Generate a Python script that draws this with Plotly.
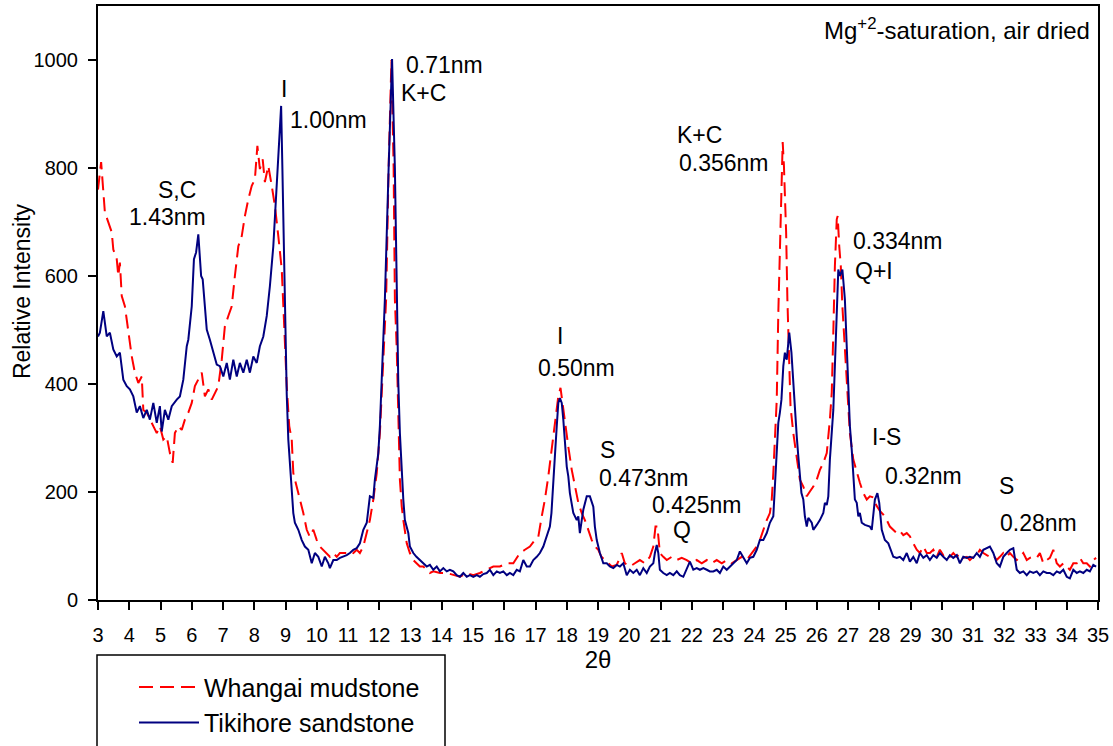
import plotly.graph_objects as go

# ---------------- data ----------------
tiki_x = [3.00, 3.06, 3.17, 3.28, 3.38, 3.49, 3.60, 3.70, 3.81, 3.92, 4.02, 4.13, 4.24, 4.34, 4.45, 4.56, 4.66, 4.77, 4.88, 4.98,
          5.04, 5.14, 5.25, 5.36, 5.52, 5.62, 5.73, 5.84, 5.89, 6.00, 6.07, 6.14, 6.21, 6.30, 6.35, 6.42, 6.48, 6.58, 6.69, 6.80,
          6.90, 7.01, 7.12, 7.22, 7.33, 7.44, 7.54, 7.65, 7.76, 7.86, 7.97, 8.08, 8.18, 8.29, 8.40, 8.50, 8.61, 8.72, 8.82, 8.86,
          8.90, 8.95, 8.98, 9.04, 9.09, 9.14, 9.20, 9.25, 9.30, 9.41, 9.52, 9.62, 9.73, 9.84, 9.94, 10.05, 10.16, 10.26, 10.37, 10.42,
          10.53, 10.64, 10.74, 10.85, 10.96, 11.06, 11.17, 11.28, 11.38, 11.49, 11.60, 11.70, 11.81, 11.86, 11.97, 12.02, 12.07, 12.13, 12.18, 12.30,
          12.41, 12.50, 12.56, 12.61, 12.66, 12.72, 12.77, 12.82, 12.93, 12.98, 13.09, 13.19, 13.30, 13.41, 13.52, 13.62, 13.73, 13.84, 13.94, 14.05,
          14.16, 14.26, 14.37, 14.48, 14.58, 14.69, 14.80, 14.90, 15.01, 15.12, 15.22, 15.33, 15.44, 15.54, 15.65, 15.76, 15.86, 15.97, 16.08, 16.18,
          16.29, 16.40, 16.50, 16.61, 16.72, 16.82, 16.93, 17.04, 17.14, 17.25, 17.36, 17.46, 17.51, 17.57, 17.62, 17.68, 17.73, 17.78, 17.84, 17.89,
          17.94, 18.00, 18.05, 18.10, 18.21, 18.32, 18.37, 18.42, 18.48, 18.53, 18.64, 18.74, 18.85, 18.90, 18.96, 19.06, 19.17, 19.28, 19.38, 19.49,
          19.60, 19.70, 19.81, 19.92, 20.02, 20.13, 20.24, 20.34, 20.45, 20.56, 20.66, 20.77, 20.82, 20.88, 20.93, 20.98, 21.09, 21.20, 21.30, 21.41,
          21.52, 21.62, 21.73, 21.84, 21.94, 22.05, 22.16, 22.26, 22.37, 22.48, 22.58, 22.69, 22.80, 22.90, 23.01, 23.12, 23.22, 23.33, 23.44, 23.54,
          23.65, 23.76, 23.86, 23.97, 24.08, 24.18, 24.29, 24.40, 24.50, 24.61, 24.66, 24.72, 24.77, 24.82, 24.87, 24.93, 24.98, 25.04, 25.12, 25.19,
          25.25, 25.30, 25.36, 25.41, 25.46, 25.51, 25.57, 25.62, 25.68, 25.73, 25.84, 25.89, 26.00, 26.10, 26.21, 26.26, 26.32, 26.37, 26.42, 26.48,
          26.53, 26.58, 26.64, 26.69, 26.74, 26.82, 26.90, 26.96, 27.01, 27.06, 27.12, 27.17, 27.22, 27.28, 27.33, 27.38, 27.44, 27.54, 27.65, 27.70,
          27.76, 27.81, 27.86, 27.94, 28.00, 28.08, 28.18, 28.29, 28.40, 28.45, 28.56, 28.66, 28.77, 28.88, 28.98, 29.09, 29.20, 29.30, 29.41, 29.52,
          29.62, 29.73, 29.84, 29.94, 30.05, 30.16, 30.26, 30.37, 30.48, 30.58, 30.69, 30.80, 30.90, 31.01, 31.12, 31.22, 31.33, 31.44, 31.54, 31.65,
          31.76, 31.86, 31.97, 32.08, 32.18, 32.29, 32.40, 32.50, 32.61, 32.72, 32.82, 32.93, 33.04, 33.14, 33.25, 33.36, 33.46, 33.57, 33.68, 33.78,
          33.89, 34.00, 34.10, 34.21, 34.32, 34.42, 34.53, 34.64, 34.74, 34.85, 34.94]
tiki_y = [488, 495, 535, 488, 495, 464, 451, 458, 408, 396, 390, 377, 347, 359, 337, 352, 334, 365, 328, 359,
          312, 352, 334, 359, 371, 377, 408, 470, 482, 544, 631, 644, 677, 600, 594, 544, 501, 482, 458, 436,
          433, 414, 439, 408, 445, 414, 439, 421, 445, 421, 451, 439, 470, 488, 526, 581, 655, 767, 878, 915,
          800, 640, 557, 380, 297, 247, 204, 161, 143, 130, 111, 99, 93, 68, 87, 80, 62, 80, 68, 59,
          74, 74, 78, 80, 83, 87, 93, 96, 105, 130, 143, 192, 189, 223, 272, 322, 402, 495, 557, 800,
          1002, 800, 557, 402, 309, 235, 186, 148, 124, 99, 87, 80, 74, 68, 62, 65, 56, 62, 53, 59,
          53, 56, 53, 46, 43, 50, 43, 46, 43, 46, 43, 48, 50, 56, 46, 53, 50, 53, 46, 50,
          46, 56, 53, 74, 62, 62, 74, 80, 87, 99, 117, 136, 161, 210, 266, 322, 365, 374, 365, 334,
          284, 247, 229, 198, 161, 148, 155, 124, 148, 167, 192, 192, 173, 136, 111, 87, 68, 68, 62, 59,
          65, 62, 68, 46, 56, 50, 56, 46, 59, 50, 62, 68, 87, 102, 87, 56, 50, 46, 50, 46,
          53, 46, 43, 59, 71, 56, 59, 56, 59, 56, 53, 53, 56, 50, 62, 56, 62, 68, 74, 90,
          80, 68, 78, 80, 93, 111, 111, 124, 143, 155, 210, 278, 328, 347, 371, 433, 458, 445, 495, 458,
          402, 340, 303, 266, 235, 198, 186, 155, 136, 152, 143, 130, 139, 148, 161, 180, 176, 192, 260, 315,
          352, 433, 544, 612, 600, 612, 557, 458, 390, 322, 278, 235, 186, 180, 155, 161, 143, 139, 136, 136,
          130, 155, 186, 198, 180, 130, 111, 105, 87, 80, 78, 80, 74, 87, 71, 80, 68, 87, 78, 83,
          74, 83, 78, 87, 80, 74, 83, 78, 83, 68, 80, 78, 80, 78, 87, 80, 93, 96, 99, 87,
          68, 62, 80, 87, 93, 96, 56, 50, 53, 46, 53, 50, 53, 46, 53, 50, 50, 46, 53, 50,
          56, 43, 40, 56, 50, 53, 50, 56, 53, 65, 62]

whang_x = [3.00, 3.10, 3.22, 3.33, 3.44, 3.49, 3.60, 3.65, 3.70, 3.76, 3.86, 3.92, 4.02, 4.08, 4.18, 4.29, 4.40, 4.45, 4.56, 4.66,
           4.77, 4.88, 4.98, 5.09, 5.20, 5.30, 5.39, 5.46, 5.57, 5.68, 5.78, 5.89, 6.00, 6.10, 6.21, 6.32, 6.42, 6.53, 6.64, 6.74,
           6.85, 6.96, 7.06, 7.17, 7.28, 7.38, 7.49, 7.60, 7.70, 7.81, 7.92, 8.02, 8.10, 8.18, 8.27, 8.34, 8.45, 8.56, 8.66, 8.77,
           8.88, 8.95, 9.04, 9.12, 9.20, 9.25, 9.36, 9.46, 9.57, 9.68, 9.78, 9.89, 10.00, 10.10, 10.21, 10.32, 10.42, 10.53, 10.64, 10.74,
           10.85, 10.96, 11.06, 11.17, 11.28, 11.38, 11.49, 11.60, 11.70, 11.81, 11.92, 12.02, 12.13, 12.22, 12.30, 12.39, 12.46, 12.50, 12.56, 12.61,
           12.66, 12.72, 12.77, 12.88, 12.98, 13.09, 13.19, 13.30, 13.41, 13.52, 13.62, 13.73, 13.94, 14.16, 14.37, 14.58, 14.80, 15.01, 15.22, 15.44,
           15.65, 15.86, 16.08, 16.29, 16.50, 16.66, 16.82, 16.98, 17.09, 17.20, 17.30, 17.41, 17.52, 17.62, 17.73, 17.80, 17.89, 17.98, 18.05, 18.16,
           18.26, 18.37, 18.48, 18.58, 18.69, 18.80, 18.90, 19.01, 19.11, 19.22, 19.33, 19.44, 19.60, 19.76, 19.86, 20.02, 20.18, 20.34, 20.50, 20.66,
           20.77, 20.84, 20.90, 20.98, 21.09, 21.20, 21.36, 21.52, 21.68, 21.84, 22.00, 22.16, 22.32, 22.48, 22.64, 22.80, 22.96, 23.12, 23.28, 23.44,
           23.60, 23.76, 23.92, 24.08, 24.18, 24.29, 24.40, 24.50, 24.56, 24.61, 24.66, 24.72, 24.77, 24.85, 24.91, 24.95, 25.02, 25.06, 25.12, 25.16,
           25.25, 25.36, 25.46, 25.57, 25.68, 25.78, 25.89, 26.00, 26.10, 26.21, 26.32, 26.42, 26.48, 26.53, 26.58, 26.64, 26.67, 26.72, 26.77, 26.82,
           26.87, 26.94, 27.00, 27.06, 27.17, 27.28, 27.38, 27.49, 27.60, 27.70, 27.81, 27.91, 28.02, 28.13, 28.24, 28.34, 28.45, 28.56, 28.66, 28.77,
           28.88, 28.98, 29.09, 29.20, 29.30, 29.41, 29.52, 29.62, 29.73, 29.84, 29.94, 30.05, 30.16, 30.26, 30.37, 30.48, 30.58, 30.69, 30.80, 30.90,
           31.01, 31.12, 31.22, 31.33, 31.44, 31.54, 31.65, 31.76, 31.86, 31.97, 32.08, 32.18, 32.29, 32.40, 32.50, 32.61, 32.72, 32.82, 32.93, 33.04,
           33.14, 33.25, 33.36, 33.46, 33.57, 33.68, 33.78, 33.89, 34.00, 34.10, 34.21, 34.32, 34.42, 34.53, 34.64, 34.74, 34.85, 34.94]
whang_y = [760, 811, 718, 699, 681, 649, 631, 600, 625, 563, 544, 519, 470, 451, 421, 402, 414, 352, 347, 334,
           322, 309, 322, 297, 303, 272, 254, 309, 322, 315, 334, 347, 365, 396, 408, 421, 377, 390, 371, 384,
           396, 445, 507, 526, 544, 600, 655, 674, 711, 742, 767, 779, 841, 798, 816, 774, 804, 767, 730, 674,
           612, 519, 396, 322, 297, 235, 210, 186, 161, 130, 117, 130, 111, 99, 93, 87, 80, 87, 80, 87,
           87, 87, 90, 87, 93, 87, 99, 124, 148, 186, 235, 309, 433, 557, 800, 1000, 800, 557, 464, 309,
           223, 173, 148, 105, 87, 74, 68, 62, 62, 56, 50, 53, 50, 50, 46, 43, 50, 46, 50, 56,
           62, 62, 68, 68, 87, 93, 99, 111, 117, 155, 186, 229, 278, 322, 377, 393, 352, 309, 284, 241,
           210, 180, 161, 148, 130, 111, 99, 93, 80, 74, 68, 62, 65, 87, 68, 62, 68, 74, 68, 80,
           99, 136, 136, 87, 80, 74, 80, 74, 78, 74, 68, 74, 68, 74, 68, 74, 68, 74, 68, 74,
           80, 74, 87, 99, 111, 130, 148, 161, 186, 235, 309, 371, 532, 742, 848, 804, 681, 557, 445, 359,
           309, 266, 223, 210, 192, 201, 210, 223, 241, 254, 272, 334, 384, 495, 618, 705, 711, 655, 618, 544,
           495, 433, 371, 309, 260, 235, 217, 198, 186, 192, 190, 175, 165, 158, 148, 136, 130, 124, 128, 120,
           124, 118, 105, 93, 87, 99, 87, 87, 93, 80, 93, 83, 87, 80, 87, 80, 87, 78, 80, 74,
           80, 83, 93, 87, 83, 80, 83, 74, 80, 87, 80, 87, 80, 74, 80, 87, 74, 78, 80, 78,
           87, 68, 74, 78, 93, 68, 62, 68, 62, 56, 68, 68, 78, 68, 68, 62, 74, 78]

x_ticks = list(range(3, 36))
y_ticks = [0, 200, 400, 600, 800, 1000]

peak_labels = ["S,C", "1.43nm", "I", "1.00nm", "0.71nm", "K+C", "K+C", "0.356nm", "0.334nm", "Q+I",
               "I", "0.50nm", "S", "0.473nm", "0.425nm", "Q", "I-S", "0.32nm", "S", "0.28nm"]
label_x = [5.53, 5.21, 8.95, 10.36, 14.10, 13.43, 22.26, 23.03, 28.60, 27.83,
           17.78, 18.30, 19.29, 20.47, 22.17, 21.69, 28.22, 29.40, 32.06, 33.11]
label_y = [760, 709, 946, 889, 991, 939, 861, 809, 665, 609,
           489, 430, 278, 226, 176, 130, 302, 230, 211, 143]

FONT = "Liberation Sans, Arial, sans-serif"

fig = go.Figure()
fig.add_trace(go.Scatter(x=whang_x, y=whang_y, mode="lines", name="Whangai mudstone",
                         line=dict(color="#ff0000", width=2, dash="14px,7px")))
fig.add_trace(go.Scatter(x=tiki_x, y=tiki_y, mode="lines", name="Tikihore sandstone",
                         line=dict(color="#000080", width=2)))

for t, xx, yy in zip(peak_labels, label_x, label_y):
    fig.add_annotation(x=xx, y=yy, xref="x", yref="y", text=t, showarrow=False,
                       xanchor="center", yanchor="middle",
                       font=dict(size=23, color="black", family=FONT))

fig.add_annotation(x=0.994, y=0.961, xref="paper", yref="paper", xanchor="right", yanchor="middle",
                   text="Mg<sup>+2</sup>-saturation, air dried", showarrow=False,
                   font=dict(size=24, color="black", family=FONT))

# y-axis title placed like the original
fig.add_annotation(x=-0.076, y=0.52, xref="paper", yref="paper", xanchor="center", yanchor="middle",
                   text="Relative Intensity", textangle=-90, showarrow=False,
                   font=dict(size=23, color="black", family=FONT))

# legend frame (extends below the page like the original)
fig.add_shape(type="rect", xref="paper", yref="paper", x0=-0.001, x1=0.347,
              y0=-0.28, y1=-0.0926, line=dict(color="black", width=1.5), fillcolor="rgba(0,0,0,0)")

fig.update_layout(
    width=1113, height=746,
    margin=dict(l=98, r=15, t=6, b=146, autoexpand=False),
    paper_bgcolor="white", plot_bgcolor="white",
    font=dict(family=FONT, color="black"),
    showlegend=True,
    legend=dict(x=0.036, y=-0.108, xanchor="left", yanchor="top",
                bgcolor="rgba(0,0,0,0)", borderwidth=0,
                font=dict(size=25, family=FONT), itemwidth=60, tracegroupgap=0),
    xaxis=dict(range=[3, 35], tickmode="array", tickvals=x_ticks, ticktext=[str(v) for v in x_ticks],
               showgrid=False, zeroline=False, showline=True, linecolor="black", linewidth=2,
               mirror=True, ticks="outside", ticklen=8, tickwidth=2, tickcolor="black",
               ticklabelstandoff=8,
               tickfont=dict(size=20, family=FONT),
               title=dict(text="2θ", font=dict(size=24, family=FONT), standoff=4)),
    yaxis=dict(range=[0, 1100], tickmode="array", tickvals=y_ticks, ticktext=[str(v) for v in y_ticks],
               showgrid=False, zeroline=False, showline=True, linecolor="black", linewidth=2,
               mirror=True, ticks="outside", ticklen=8, tickwidth=2, tickcolor="black",
               ticklabelstandoff=6,
               tickfont=dict(size=20, family=FONT)),
)

fig.write_html("out.html")
